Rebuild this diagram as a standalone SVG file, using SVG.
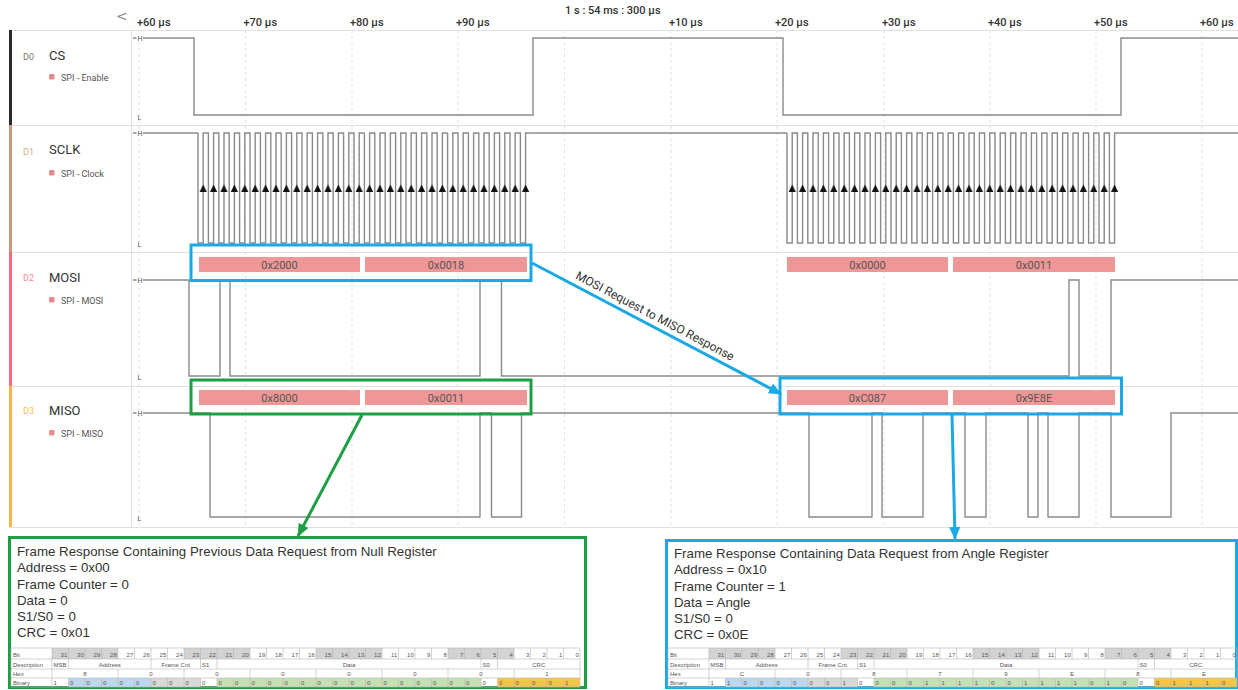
<svg xmlns="http://www.w3.org/2000/svg" xmlns:xlink="http://www.w3.org/1999/xlink" width="1238" height="690" viewBox="0 0 1238 690">
<style>
.wave{fill:none;stroke:#8a8a8a;stroke-width:1.4}
.grid{stroke:#e2e2e2;stroke-width:1;stroke-dasharray:3 3}
.sep{stroke:#e0e0e0;stroke-width:1}
.ax{font-family:Roboto,"Liberation Sans",sans-serif;font-size:11px;font-weight:500;fill:#333}
.ch{font-family:Roboto,"Liberation Sans",sans-serif;font-size:13px;fill:#333}
.dn{font-family:Roboto,"Liberation Sans",sans-serif;font-size:9px}
.sub{font-family:Roboto,"Liberation Sans",sans-serif;font-size:9px;fill:#555}
.hl{font-family:Roboto,"Liberation Sans",sans-serif;font-size:7px;fill:#555}
.bar{fill:#ef9797}
.bt{font-family:Roboto,"Liberation Sans",sans-serif;font-size:11px;fill:#555;text-anchor:middle}
.bxb{fill:none;stroke:#1aa9e4;stroke-width:3}
.bxg{fill:none;stroke:#1f9f45;stroke-width:3}
.cb{stroke:#1aa9e4;stroke-width:3}
.cg{stroke:#1f9f45;stroke-width:3}
.note{font-family:"Liberation Sans",Arial,sans-serif;font-size:13.3px;fill:#333}
.lbl{font-family:Roboto,"Liberation Sans",sans-serif;font-size:12px;fill:#333}
.tb{font-family:"Liberation Sans",Arial,sans-serif;font-size:6px;fill:#555}
.tbm{font-family:"Liberation Sans",Arial,sans-serif;font-size:6px;fill:#555;text-anchor:middle}
.tbe{font-family:"Liberation Sans",Arial,sans-serif;font-size:6px;fill:#555;text-anchor:end}
.tgrid{fill:none;stroke:#b5b5b5;stroke-width:0.6}
.sq{fill:#e98b8b}
</style>
<defs>
<marker id="ahB" markerUnits="userSpaceOnUse" markerWidth="13" markerHeight="11" viewBox="0 0 13 11" refX="12" refY="5.5" orient="auto"><path d="M0,0L13,5.5L0,11z" fill="#1aa9e4"/></marker>
<marker id="ahG" markerUnits="userSpaceOnUse" markerWidth="13" markerHeight="11" viewBox="0 0 13 11" refX="12" refY="5.5" orient="auto"><path d="M0,0L13,5.5L0,11z" fill="#1f9f45"/></marker>
<pattern id="clkArrow" patternUnits="userSpaceOnUse" x="198" y="183" width="10.4" height="10"><path d="M1.6,9L5.2,1.5L8.8,9Z" fill="#111"/></pattern>
<path id="tgridp" class="tgrid" d="M0,0H569M0,11H569M0,21H569M0,30H569M0,39H569M0,0V39M41,0V39M569,0V39M57.5,0v11m0,19v9M74,0v11m0,19v9M90.5,0v11m0,19v9M107,0v11m0,19v9M123.5,0v11m0,19v9M140,0v11m0,19v9M156.5,0v11m0,19v9M173,0v11m0,19v9M189.5,0v11m0,19v9M206,0v11m0,19v9M222.5,0v11m0,19v9M239,0v11m0,19v9M255.5,0v11m0,19v9M272,0v11m0,19v9M288.5,0v11m0,19v9M305,0v11m0,19v9M321.5,0v11m0,19v9M338,0v11m0,19v9M354.5,0v11m0,19v9M371,0v11m0,19v9M387.5,0v11m0,19v9M404,0v11m0,19v9M420.5,0v11m0,19v9M437,0v11m0,19v9M453.5,0v11m0,19v9M470,0v11m0,19v9M486.5,0v11m0,19v9M503,0v11m0,19v9M519.5,0v11m0,19v9M536,0v11m0,19v9M552.5,0v11m0,19v9M57.5,11v10M140,11v10M189.5,11v10M206,11v10M470,11v10M486.5,11v10M107,21v9M173,21v9M239,21v9M305,21v9M371,21v9M437,21v9M503,21v9"/>
<path id="clk8" d="M0,0V110h5.2V0h5.2V110h5.2V0h5.2V110h5.2V0h5.2V110h5.2V0h5.2V110h5.2V0h5.2V110h5.2V0h5.2V110h5.2V0h5.2V110h5.2V0h5.2"/>
<g id="tblbase">
<rect x="41" y="0" width="66" height="11" fill="#d3d3d3"/><rect x="173" y="0" width="66" height="11" fill="#d3d3d3"/><rect x="305" y="0" width="66" height="11" fill="#d3d3d3"/><rect x="437" y="0" width="66" height="11" fill="#d3d3d3"/>
<rect x="57.5" y="30" width="82.5" height="9" fill="#bdd7ee"/><rect x="140" y="30" width="49.5" height="9" fill="#d9d9d9"/><rect x="206" y="30" width="264" height="9" fill="#c6e0b4"/><rect x="486.5" y="30" width="82.5" height="9" fill="#f7c548"/>
<use href="#tgridp"/>
<text class="tb" x="2" y="8.5">Bit</text><text class="tb" x="2" y="18.5">Description</text><text class="tb" x="2" y="27.5">Hex</text><text class="tb" x="2" y="36.5">Binary</text>
<text class="tbe"><tspan x="56.3" y="8.5">31</tspan><tspan x="72.8" y="8.5">30</tspan><tspan x="89.3" y="8.5">29</tspan><tspan x="105.8" y="8.5">28</tspan><tspan x="122.3" y="8.5">27</tspan><tspan x="138.8" y="8.5">26</tspan><tspan x="155.3" y="8.5">25</tspan><tspan x="171.8" y="8.5">24</tspan><tspan x="188.3" y="8.5">23</tspan><tspan x="204.8" y="8.5">22</tspan><tspan x="221.3" y="8.5">21</tspan><tspan x="237.8" y="8.5">20</tspan><tspan x="254.3" y="8.5">19</tspan><tspan x="270.8" y="8.5">18</tspan><tspan x="287.3" y="8.5">17</tspan><tspan x="303.8" y="8.5">16</tspan><tspan x="320.3" y="8.5">15</tspan><tspan x="336.8" y="8.5">14</tspan><tspan x="353.3" y="8.5">13</tspan><tspan x="369.8" y="8.5">12</tspan><tspan x="386.3" y="8.5">11</tspan><tspan x="402.8" y="8.5">10</tspan><tspan x="419.3" y="8.5">9</tspan><tspan x="435.8" y="8.5">8</tspan><tspan x="452.3" y="8.5">7</tspan><tspan x="468.8" y="8.5">6</tspan><tspan x="485.3" y="8.5">5</tspan><tspan x="501.8" y="8.5">4</tspan><tspan x="518.3" y="8.5">3</tspan><tspan x="534.8" y="8.5">2</tspan><tspan x="551.3" y="8.5">1</tspan><tspan x="567.8" y="8.5">0</tspan></text>
<text class="tb" x="42.5" y="18.5">MSB</text><text class="tbm" x="98.75" y="18.5">Address</text><text class="tbm" x="164.75" y="18.5">Frame Cnt</text><text class="tb" x="191" y="18.5">S1</text><text class="tbm" x="338" y="18.5">Data</text><text class="tb" x="471.5" y="18.5">S0</text><text class="tbm" x="527.75" y="18.5">CRC</text>
</g>
</defs>

<rect width="1238" height="690" fill="#ffffff"/>

<g id="axis">
<path class="sep" d="M9,30.5H1238M131.5,30V527"/>
<path class="grid" d="M139,30V527M245.5,30V527M352,30V527M458,30V527M564.5,30V527M671,30V527M777,30V527M884,30V527M990,30V527M1096,30V527M1202,30V527"/>
<text x="116" y="21" font-family="DejaVu Sans,sans-serif" font-size="14" fill="#8a8a8a">&lt;</text>
<text class="ax" x="137" y="26">+60 µs</text>
<text class="ax" x="243.5" y="26">+70 µs</text>
<text class="ax" x="350" y="26">+80 µs</text>
<text class="ax" x="456" y="26">+90 µs</text>
<text class="ax" x="565" y="14">1 s : 54 ms : 300 µs</text>
<text class="ax" x="669" y="26">+10 µs</text>
<text class="ax" x="775" y="26">+20 µs</text>
<text class="ax" x="882" y="26">+30 µs</text>
<text class="ax" x="988" y="26">+40 µs</text>
<text class="ax" x="1094" y="26">+50 µs</text>
<text class="ax" x="1200" y="26">+60 µs</text>
<path class="sep" d="M9,125.5H1238M9,252.5H1238M9,386.5H1238M9,527.5H1238"/>
</g>

<g id="channel-cs">
<rect x="9" y="30" width="3" height="95" fill="#2a2a2a"/>
<text class="dn" x="23" y="60" fill="#777">D0</text>
<text class="ch" x="49" y="60">CS</text>
<rect class="sq" x="49" y="74" width="5.5" height="5.5" rx="1"/>
<text class="sub" x="61" y="81">SPI - Enable</text>
<text class="hl" x="137.5" y="40.5">H</text>
<text class="hl" x="137.5" y="120">L</text>
<path class="wave" d="M133,38h3.5M143,38H194V115H533V38H783V115H1121V38H1238"/>
</g>

<g id="channel-sclk">
<rect x="9" y="125" width="3" height="127" fill="#c69a7e"/>
<text class="dn" x="23" y="155" fill="#d9ab8f">D1</text>
<text class="ch" x="49" y="154">SCLK</text>
<rect class="sq" x="49" y="170" width="5.5" height="5.5" rx="1"/>
<text class="sub" x="61" y="176.5">SPI - Clock</text>
<text class="hl" x="137.5" y="135.5">H</text>
<text class="hl" x="137.5" y="247">L</text>
<path class="wave" d="M133,133h3.5M143,133H198M530.8,133H787M1119.8,133H1238"/>
<g class="wave" transform="translate(0,133)">
<use href="#clk8" x="198"/><use href="#clk8" x="281.2"/><use href="#clk8" x="364.4"/><use href="#clk8" x="447.6"/>
<use href="#clk8" x="787"/><use href="#clk8" x="870.2"/><use href="#clk8" x="953.4"/><use href="#clk8" x="1036.6"/>
</g>
<rect id="clkarrows" x="198" y="183" width="332.8" height="10" fill="url(#clkArrow)"/>
<use href="#clkarrows" x="589"/>
</g>

<g id="channel-mosi">
<rect x="9" y="252" width="3" height="134" fill="#f26b80"/>
<text class="dn" x="23" y="281" fill="#f58a9c">D2</text>
<text class="ch" x="49" y="282">MOSI</text>
<rect class="sq" x="49" y="297" width="5.5" height="5.5" rx="1"/>
<text class="sub" x="61" y="303.5">SPI - MOSI</text>
<text class="hl" x="137.5" y="282.5">H</text>
<text class="hl" x="137.5" y="380">L</text>
<path class="wave" d="M133,280h3.5M143,280H189V376H220V280H230V376H480V280H501.5V376H1069V280H1079V376H1111V280H1238"/>
<rect class="bar" x="199" y="257" width="161" height="15"/><text class="bt" x="279.5" y="268.5">0x2000</text>
<rect class="bar" x="365" y="257" width="162" height="15"/><text class="bt" x="446" y="268.5">0x0018</text>
<rect class="bar" x="787" y="257" width="161" height="15"/><text class="bt" x="867.5" y="268.5">0x0000</text>
<rect class="bar" x="953" y="257" width="162" height="15"/><text class="bt" x="1034" y="268.5">0x0011</text>
</g>

<g id="channel-miso">
<rect x="9" y="386" width="3" height="141" fill="#f6b44a"/>
<text class="dn" x="23" y="414" fill="#f7b955">D3</text>
<text class="ch" x="49" y="415">MISO</text>
<rect class="sq" x="49" y="430" width="5.5" height="5.5" rx="1"/>
<text class="sub" x="61" y="436.5">SPI - MISO</text>
<text class="hl" x="137.5" y="415.5">H</text>
<text class="hl" x="137.5" y="521">L</text>
<path class="wave" d="M133,413h3.5M143,413H210V517H480V413H491.5V517H521.5V413H809V517H872V413H882V517H923V413H965V517H986V413H1028V517H1038V413H1048V517H1079V413H1111V517H1171V413H1238"/>
<rect class="bar" x="199" y="390" width="161" height="15"/><text class="bt" x="279.5" y="401.5">0x8000</text>
<rect class="bar" x="365" y="390" width="162" height="15"/><text class="bt" x="446" y="401.5">0x0011</text>
<rect class="bar" x="787" y="390" width="161" height="15"/><text class="bt" x="867.5" y="401.5">0xC087</text>
<rect class="bar" x="953" y="390" width="162" height="15"/><text class="bt" x="1034" y="401.5">0x9E8E</text>
</g>

<g id="mosi-request-box"><rect class="bxb" x="191" y="245" width="340" height="35.5"/></g>
<g id="miso-null-box"><rect class="bxg" x="191" y="380" width="340" height="34"/></g>
<g id="miso-angle-box"><rect class="bxb" x="780" y="378" width="341.5" height="36"/></g>

<g id="connectors">
<line class="cb" x1="532" y1="263" x2="781" y2="394" marker-end="url(#ahB)"/>
<line class="cg" x1="362" y1="415" x2="298" y2="536" marker-end="url(#ahG)"/>
<line class="cb" x1="952" y1="415" x2="955" y2="539" marker-end="url(#ahB)"/>
<text class="lbl" x="655" y="320" text-anchor="middle" transform="rotate(27.8 655 316)">MOSI Request to MISO Response</text>
</g>

<g id="note-null-register">
<rect class="bxg" x="9.5" y="537.5" width="576" height="150"/>
<text class="note" x="17" y="556">Frame Response Containing Previous Data Request from Null Register</text>
<text class="note" x="17" y="572">Address = 0x00</text>
<text class="note" x="17" y="588.5">Frame Counter = 0</text>
<text class="note" x="17" y="605">Data = 0</text>
<text class="note" x="17" y="621">S1/S0 = 0</text>
<text class="note" x="17" y="637">CRC = 0x01</text>
<g transform="translate(11,648)">
<use href="#tblbase"/>
<text class="tbm"><tspan x="74" y="27.5">8</tspan><tspan x="140" y="27.5">0</tspan><tspan x="206" y="27.5">0</tspan><tspan x="272" y="27.5">0</tspan><tspan x="338" y="27.5">0</tspan><tspan x="404" y="27.5">0</tspan><tspan x="470" y="27.5">0</tspan><tspan x="536" y="27.5">1</tspan></text>
<text class="tb"><tspan x="42.5" y="36.5">1</tspan><tspan x="59" y="36.5">0</tspan><tspan x="75.5" y="36.5">0</tspan><tspan x="92" y="36.5">0</tspan><tspan x="108.5" y="36.5">0</tspan><tspan x="125" y="36.5">0</tspan><tspan x="141.5" y="36.5">0</tspan><tspan x="158" y="36.5">0</tspan><tspan x="174.5" y="36.5">0</tspan><tspan x="191" y="36.5">0</tspan><tspan x="207.5" y="36.5">0</tspan><tspan x="224" y="36.5">0</tspan><tspan x="240.5" y="36.5">0</tspan><tspan x="257" y="36.5">0</tspan><tspan x="273.5" y="36.5">0</tspan><tspan x="290" y="36.5">0</tspan><tspan x="306.5" y="36.5">0</tspan><tspan x="323" y="36.5">0</tspan><tspan x="339.5" y="36.5">0</tspan><tspan x="356" y="36.5">0</tspan><tspan x="372.5" y="36.5">0</tspan><tspan x="389" y="36.5">0</tspan><tspan x="405.5" y="36.5">0</tspan><tspan x="422" y="36.5">0</tspan><tspan x="438.5" y="36.5">0</tspan><tspan x="455" y="36.5">0</tspan><tspan x="471.5" y="36.5">0</tspan><tspan x="488" y="36.5">0</tspan><tspan x="504.5" y="36.5">0</tspan><tspan x="521" y="36.5">0</tspan><tspan x="537.5" y="36.5">0</tspan><tspan x="554" y="36.5">1</tspan></text>
</g>
</g>

<g id="note-angle-register">
<rect class="bxb" x="666.5" y="540.5" width="570" height="147"/>
<text class="note" x="674" y="558">Frame Response Containing Data Request from Angle Register</text>
<text class="note" x="674" y="574">Address = 0x10</text>
<text class="note" x="674" y="590.5">Frame Counter = 1</text>
<text class="note" x="674" y="607">Data = Angle</text>
<text class="note" x="674" y="623">S1/S0 = 0</text>
<text class="note" x="674" y="639">CRC = 0x0E</text>
<g transform="translate(668,648)">
<use href="#tblbase"/>
<text class="tbm"><tspan x="74" y="27.5">C</tspan><tspan x="140" y="27.5">0</tspan><tspan x="206" y="27.5">8</tspan><tspan x="272" y="27.5">7</tspan><tspan x="338" y="27.5">9</tspan><tspan x="404" y="27.5">E</tspan><tspan x="470" y="27.5">8</tspan><tspan x="536" y="27.5">E</tspan></text>
<text class="tb"><tspan x="42.5" y="36.5">1</tspan><tspan x="59" y="36.5">1</tspan><tspan x="75.5" y="36.5">0</tspan><tspan x="92" y="36.5">0</tspan><tspan x="108.5" y="36.5">0</tspan><tspan x="125" y="36.5">0</tspan><tspan x="141.5" y="36.5">0</tspan><tspan x="158" y="36.5">0</tspan><tspan x="174.5" y="36.5">1</tspan><tspan x="191" y="36.5">0</tspan><tspan x="207.5" y="36.5">0</tspan><tspan x="224" y="36.5">0</tspan><tspan x="240.5" y="36.5">0</tspan><tspan x="257" y="36.5">1</tspan><tspan x="273.5" y="36.5">1</tspan><tspan x="290" y="36.5">1</tspan><tspan x="306.5" y="36.5">1</tspan><tspan x="323" y="36.5">0</tspan><tspan x="339.5" y="36.5">0</tspan><tspan x="356" y="36.5">1</tspan><tspan x="372.5" y="36.5">1</tspan><tspan x="389" y="36.5">1</tspan><tspan x="405.5" y="36.5">1</tspan><tspan x="422" y="36.5">0</tspan><tspan x="438.5" y="36.5">1</tspan><tspan x="455" y="36.5">0</tspan><tspan x="471.5" y="36.5">0</tspan><tspan x="488" y="36.5">0</tspan><tspan x="504.5" y="36.5">1</tspan><tspan x="521" y="36.5">1</tspan><tspan x="537.5" y="36.5">1</tspan><tspan x="554" y="36.5">0</tspan></text>
</g>
</g>
</svg>
